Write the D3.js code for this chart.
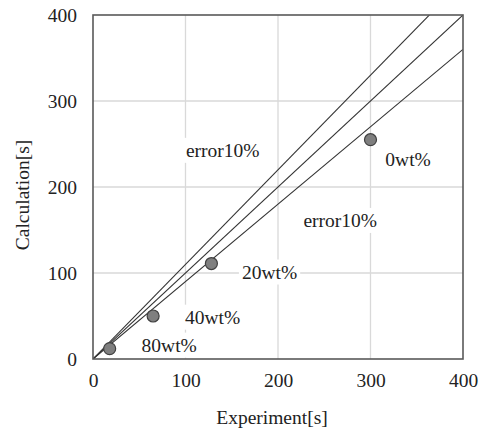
<!DOCTYPE html>
<html>
<head>
<meta charset="utf-8">
<script src="https://cdn.jsdelivr.net/npm/d3@7"></script>
<style>
  body { margin: 0; background: #fff; }
  text { font-family: "Liberation Serif", "Times New Roman", serif; fill: #222; }
</style>
</head>
<body>
<div id="vis"></div>
<script>
// measured points (experiment vs calculation)
var experiment = [300, 128, 65, 18];
var calculation = [255, 111, 50, 12];

// reference lines: y = slope * x
var lineSlopes = [1.1, 1.0, 0.9];

var ticks = [0, 100, 200, 300, 400];

// annotation text and where it sits (data units, left edge / middle)
var labelText = ["error10%", "0wt%", "error10%", "20wt%", "40wt%", "80wt%"];
var labelX = [100.5, 316, 227.5, 161, 99.5, 52.5];
var labelY = [243, 232.5, 161.5, 101.5, 49, 16.5];

var width = 482, height = 429;
var margin = {top: 15, right: 19, bottom: 70, left: 93};

var svg = d3.select("#vis").append("svg")
    .attr("width", width)
    .attr("height", height)

svg.append("rect").attr("width", width).attr("height", height).attr("fill", "#fff")

var x = d3.scaleLinear().domain([0, 400]).range([margin.left, width - margin.right]);
var y = d3.scaleLinear().domain([0, 400]).range([height - margin.bottom, margin.top]);

// grid
svg.append("g").selectAll("line")
    .data(ticks.slice(1, -1))
    .enter().append("line")
    .attr("x1", function(d) { return x(d); })
    .attr("x2", function(d) { return x(d); })
    .attr("y1", y(0)).attr("y2", y(400))
    .attr("stroke", "#d9d9d9").attr("stroke-width", 1.3)

svg.append("g").selectAll("line")
    .data(ticks.slice(1, -1))
    .enter().append("line")
    .attr("y1", function(d) { return y(d); })
    .attr("y2", function(d) { return y(d); })
    .attr("x1", x(0)).attr("x2", x(400))
    .attr("stroke", "#d9d9d9").attr("stroke-width", 1.3)

// labels with white boxes (they hide the grid behind them)
var labels = svg.append("g");
labelText.forEach(function(t, i) {
    var g = labels.append("g");
    var txt = g.append("text")
        .attr("x", x(labelX[i]))
        .attr("y", y(labelY[i]))
        .attr("dy", "0.35em")
        .attr("font-size", 19.5)
        .text(t);
    var bb = txt.node().getBBox();
    g.insert("rect", "text")
        .attr("x", bb.x - 3).attr("y", bb.y - 2)
        .attr("width", bb.width + 6).attr("height", bb.height + 4)
        .attr("fill", "#fff")
});

// reference lines
var clip = svg.append("clipPath").attr("id", "plot")
    .append("rect")
    .attr("x", x(0)).attr("y", y(400))
    .attr("width", x(400) - x(0)).attr("height", y(0) - y(400))

svg.append("g").attr("clip-path", "url(#plot)")
    .selectAll("line")
    .data(lineSlopes)
    .enter().append("line")
    .attr("x1", x(0)).attr("y1", y(0))
    .attr("x2", x(400)).attr("y2", function(d) { return y(400 * d); })
    .attr("stroke", "#333").attr("stroke-width", 1.1)

// frame
svg.append("rect")
    .attr("x", x(0)).attr("y", y(400))
    .attr("width", x(400) - x(0)).attr("height", y(0) - y(400))
    .attr("fill", "none").attr("stroke", "#595959").attr("stroke-width", 1.6)

// points
svg.append("g").selectAll("circle")
    .data(experiment)
    .enter().append("circle")
    .attr("cx", function(d) { return x(d); })
    .attr("cy", function(d, i) { return y(calculation[i]); })
    .attr("r", 6)
    .attr("fill", "#7f7f7f")
    .attr("stroke", "#404040").attr("stroke-width", 1.2)

// axes
var xAxis = svg.append("g")
    .attr("transform", "translate(0," + y(0) + ")")
    .call(d3.axisBottom(x).tickValues(ticks).tickSize(0).tickPadding(14));
xAxis.select(".domain").remove();
xAxis.selectAll("text").attr("font-size", 19.5).attr("font-family", "Liberation Serif").attr("fill", "#222");

var yAxis = svg.append("g")
    .attr("transform", "translate(" + x(0) + ",0)")
    .call(d3.axisLeft(y).tickValues(ticks).tickSize(0).tickPadding(16));
yAxis.select(".domain").remove();
yAxis.selectAll("text").attr("font-size", 19.5).attr("font-family", "Liberation Serif").attr("fill", "#222");

svg.append("text")
    .attr("x", 272).attr("y", 424)
    .attr("text-anchor", "middle")
    .attr("font-size", 19.5)
    .text("Experiment[s]")

svg.append("text")
    .attr("transform", "translate(29,195) rotate(-90)")
    .attr("text-anchor", "middle")
    .attr("font-size", 19.5)
    .text("Calculation[s]")
</script>
</body>
</html>
